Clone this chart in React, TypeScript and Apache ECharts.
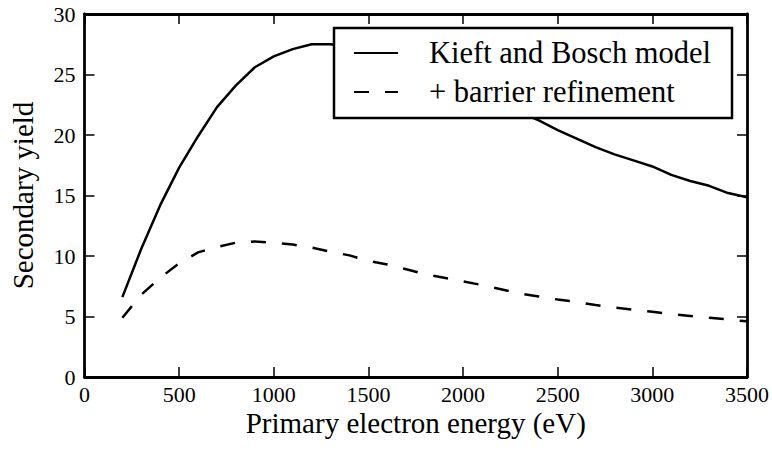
import React, { useEffect, useRef } from "react";
import * as echarts from "echarts";

const energies = [200, 300, 400, 500, 600, 700, 800, 900, 1000, 1100, 1200, 1300, 1400, 1500, 1600, 1700, 1800, 1900, 2000, 2100, 2200, 2300, 2400, 2500, 2600, 2700, 2800, 2900, 3000, 3100, 3200, 3300, 3400, 3500];
const kieftBosch = [6.6, 10.6, 14.2, 17.3, 19.9, 22.3, 24.1, 25.6, 26.5, 27.1, 27.5, 27.5, 27.3, 27.0, 26.5, 26.0, 25.3, 24.6, 23.9, 23.2, 22.5, 21.9, 21.2, 20.4, 19.7, 19.0, 18.4, 17.9, 17.4, 16.7, 16.2, 15.8, 15.2, 14.85];
const barrier = [4.9, 6.8, 8.2, 9.4, 10.3, 10.75, 11.1, 11.2, 11.1, 10.95, 10.7, 10.35, 10.05, 9.6, 9.3, 8.9, 8.5, 8.2, 7.9, 7.6, 7.25, 6.9, 6.65, 6.4, 6.2, 5.95, 5.75, 5.55, 5.4, 5.2, 5.05, 4.9, 4.75, 4.6];
const seriesNames = ["Kieft and Bosch model", "+ barrier refinement"];
const xTitle = "Primary electron energy (eV)";
const yTitle = "Secondary yield";

const FONT = "Liberation Serif";
const tickRich = { t: { fontFamily: FONT, fontSize: 22, color: "#000" } };
const nameRich = { n: { fontFamily: FONT, fontSize: 29, color: "#000" } };
const legRich = { l: { fontFamily: FONT, fontSize: 30.5, color: "#000", lineHeight: 36 } };

export default function App() {
  const ref = useRef<HTMLDivElement>(null);
  useEffect(() => {
    if (!ref.current) return;
    const chart = echarts.init(ref.current, null, { renderer: "svg" });
    const frame = { show: true, onZero: false, lineStyle: { color: "#000", width: 2.8 } };
    const tick = { show: true, inside: true, length: 10, lineStyle: { color: "#000", width: 1.5 } };
    const xBase = { type: "value", min: 0, max: 3500, interval: 500, splitLine: { show: false }, axisLine: frame, axisTick: tick, nameMoveOverlap: false };
    const yBase = { type: "value", min: 0, max: 30, interval: 5, splitLine: { show: false }, axisLine: frame, axisTick: tick, nameMoveOverlap: false };
    const tickLabel = (margin: number) => ({
      show: true,
      margin,
      fontFamily: FONT,
      fontSize: 22,
      color: "#000",
      formatter: (v: number) => "{t|" + String(v) + "}",
      rich: tickRich,
    });
    chart.setOption({
      animation: false,
      backgroundColor: "#fff",
      textStyle: { fontFamily: FONT },
      grid: { left: 83, right: 25, top: 14, bottom: 74, containLabel: false },
      xAxis: [
        {
          ...xBase,
          position: "bottom",
          name: "{n|" + xTitle + "}",
          nameLocation: "middle",
          nameGap: 46,
          nameTextStyle: { fontFamily: FONT, fontSize: 29, color: "#000", verticalAlign: "middle", rich: nameRich },
          axisLabel: tickLabel(6),
        },
        { ...xBase, position: "top", axisLabel: { show: false } },
      ],
      yAxis: [
        {
          ...yBase,
          position: "left",
          name: "{n|" + yTitle + "}",
          nameLocation: "middle",
          nameGap: 62,
          nameRotate: 90,
          nameTextStyle: { fontFamily: FONT, fontSize: 29, color: "#000", verticalAlign: "middle", rich: nameRich },
          axisLabel: tickLabel(9),
        },
        { ...yBase, position: "right", axisLabel: { show: false } },
      ],
      legend: {
        show: true,
        orient: "vertical",
        left: 353,
        top: 35,
        padding: 0,
        itemWidth: 44,
        itemHeight: 20,
        itemGap: 3,
        selectedMode: false,
        data: seriesNames,
        formatter: (name: string) => "{l|" + name + "}",
        itemStyle: { color: "rgba(0,0,0,0)", borderColor: "rgba(0,0,0,0)", borderWidth: 0, opacity: 0 },
        textStyle: { fontFamily: FONT, fontSize: 30.5, color: "#000", lineHeight: 36, padding: [0, 0, 0, 26], rich: legRich },
      },
      graphic: [
        {
          type: "rect",
          z: 3,
          shape: { x: 334, y: 28, width: 398, height: 90 },
          style: { fill: "#fff", stroke: "#000", lineWidth: 2.5 },
        },
      ],
      series: [
        {
          name: seriesNames[0],
          type: "line",
          symbol: "none",
          showSymbol: false,
          data: energies.map((e, i) => [e, kieftBosch[i]]),
          lineStyle: { color: "#000", width: 2.5, type: "solid" },
          itemStyle: { color: "#000" },
          z: 2,
        },
        {
          name: seriesNames[1],
          type: "line",
          symbol: "none",
          showSymbol: false,
          data: energies.map((e, i) => [e, barrier[i]]),
          lineStyle: { color: "#000", width: 2.5, type: [15, 16] },
          itemStyle: { color: "#000" },
          z: 2,
        },
      ],
    });
    return () => chart.dispose();
  }, []);
  return <div ref={ref} style={{ position: "fixed", left: 0, top: 0, width: 772, height: 451 }} />;
}
